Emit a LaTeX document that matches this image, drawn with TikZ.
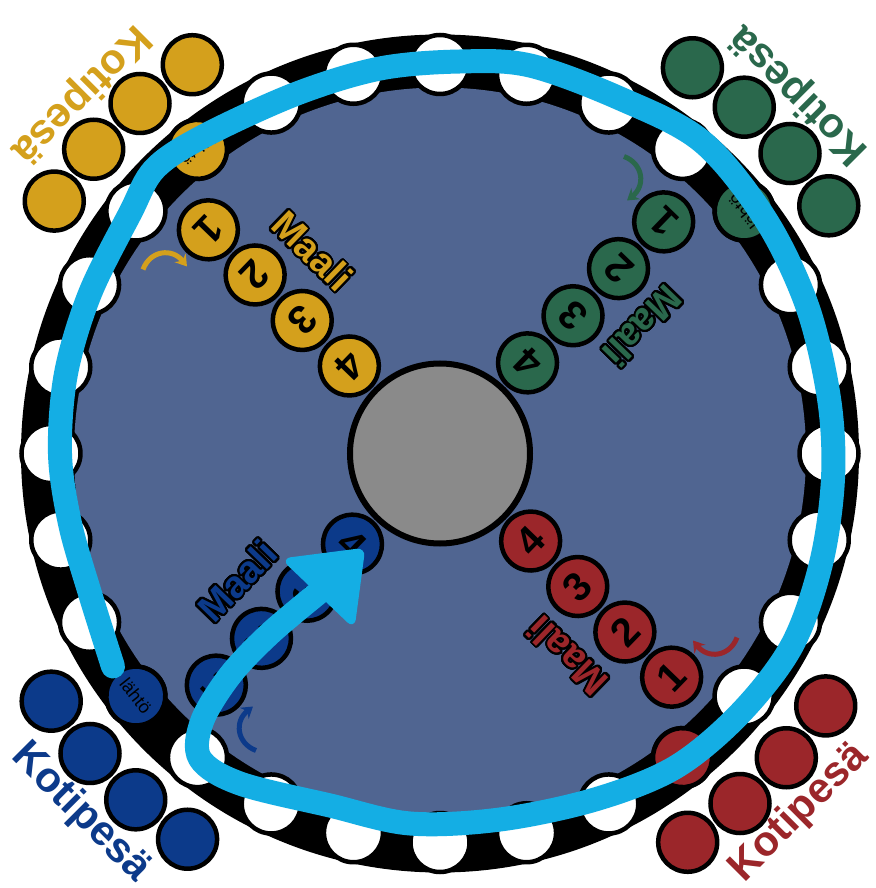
\documentclass[tikz,border=0pt]{standalone}
\usepackage{fontspec}
\setmainfont{Liberation Sans}
\usepackage{contour}
\contourlength{2pt}
\contournumber{32}
\usetikzlibrary{arrows.meta}
\definecolor{kelta}{RGB}{212,160,28}
\definecolor{vihrea}{RGB}{42,104,76}
\definecolor{puna}{RGB}{155,38,42}
\definecolor{sini}{RGB}{12,58,138}
\definecolor{lauta}{RGB}{80,101,145}
\definecolor{harmaa}{RGB}{138,138,138}
\definecolor{reitti}{RGB}{20,174,228}

\begin{document}
\begin{tikzpicture}[x=1pt,y=1pt,>={Stealth[length=11pt,width=14pt]},
    every node/.style={inner sep=0pt},
    ruutu/.style={circle,draw=black,line width=4.5pt,minimum size=59pt},
    keski/.style={circle,draw=black,line width=6pt,minimum size=180pt,fill=harmaa},
    numero/.style={ruutu,font=\bfseries\fontsize{40}{40}\selectfont},
    lahto/.style={ruutu,font=\fontsize{18}{18}\selectfont},
    otsikko/.style={font=\bfseries\fontsize{42}{42}\selectfont},
    maaliteksti/.style={font=\bfseries\fontsize{38}{38}\selectfont}]

    \useasboundingbox (-440,-434.5) rectangle (435,453.5);

    % lauta ja kierros
    \fill[black] (0,0) circle (419);
    \fill[lauta] (0,0) circle (366);
    \foreach \k in {0,...,27}
        \node[ruutu,fill=white] (r\k) at ({90+\k*360/28}:389) {};
    \node[keski] (keski) at (0,0) {};

    % neljä väriä, sama kuvio kierrettynä
    \foreach \vari/\kulma/\nimi in {kelta/0/Y,vihrea/-90/G,puna/180/R,sini/90/B} {
        \begin{scope}[rotate=\kulma,transform shape]
            \node[lahto,fill=\vari,rotate=218.6] (alku\nimi) at (128.57:389) {lähtö};
            \foreach \i/\r in {1/322,2/257,3/191.5,4/126}
                \node[numero,fill=\vari,rotate=226] (maali\nimi\i) at (136:\r) {\i};
            \node[maaliteksti,text=\vari,rotate=316] (teksti\nimi) at (-128,202) {\contour{black}{Maali}};
            \foreach \i/\a in {1/122.5,2/130.6,3/138.7,4/146.8}
                \node[ruutu,fill=\vari] (pesa\nimi\i) at (\a:461) {};
            \node[otsikko,text=\vari,rotate=225] (koti\nimi) at (135:508) {Kotipesä};
            \draw[->,line width=5pt,\vari] (-297,184) .. controls (-290,203) and (-268,206) .. (-253,187);
        \end{scope}
    }

    % sininen reitti
    \draw[reitti,line width=24pt,line cap=round,line join=round] plot[smooth,tension=0.55] coordinates {
        (-327,-213) (-350,-140) (-370,-70) (-380,0) (-374,80) (-350,160) (-310,240)
        (-285,285) (-235,318) (-143,360) (-60,385) (20,392) (90,388) (180,355)
        (262,312) (325,235) (367,148) (389,55) (393,-25) (381,-110) (352,-192)
        (300,-260) (235,-314) (155,-346) (60,-366) (-30,-370) (-110,-352) (-200,-330)
        (-240,-305) (-238,-268) (-210,-222) (-170,-180) (-120,-138)};
    \filldraw[reitti,line width=4pt,rounded corners=6pt] (-155,-106.5) -- (-77,-96.5) -- (-87,-171.5) -- cycle;
\end{tikzpicture}
\end{document}
